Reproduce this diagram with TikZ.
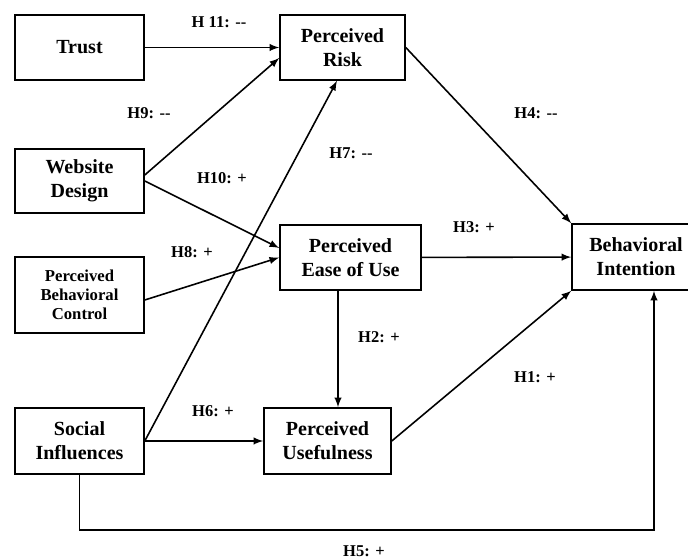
\documentclass[tikz,border=0pt]{standalone}
\usepackage{fontspec}
\setmainfont{Liberation Serif}
\tikzset{
    every node/.style={align=center, inner sep=0mm}
}
\tikzset{box/.style={rectangle, draw, line width=0.9pt, minimum width=2.58cm, minimum height=1.30cm, font=\fontsize{11.4}{13.5}\selectfont\bfseries}}
\tikzset{hyp/.style={font=\fontsize{9.4}{11}\selectfont\bfseries}}
\tikzset{arr/.style={->, >=latex, line width=0.9pt}}

\begin{document}
\begin{tikzpicture}
        \useasboundingbox (0cm, 0cm) rectangle (13.76cm, 11.2cm);
        \node (trust) [box] at (1.59cm, 10.25cm) {Trust};
        \node (pr) [box, minimum width=2.50cm] at (6.85cm, 10.25cm) {Perceived\\Risk};
        \node (wd) [box, minimum height=1.28cm] at (1.59cm, 7.58cm) {Website\\Design};
        \node (pbc) [box, minimum height=1.52cm, font=\fontsize{9.5}{10.8}\selectfont\bfseries] at (1.59cm, 5.30cm) {Perceived\\Behavioral\\Control};
        \node (peou) [box, minimum width=2.82cm] at (7.01cm, 6.05cm) {Perceived\\Ease of Use};
        \node (bi) [box, minimum width=2.56cm, minimum height=1.32cm] at (12.72cm, 6.06cm) {Behavioral\\Intention};
        \node (si) [box, minimum height=1.32cm] at (1.59cm, 2.38cm) {Social\\Influences};
        \node (pu) [box, minimum width=2.54cm, minimum height=1.32cm] at (6.55cm, 2.38cm) {Perceived\\Usefulness};
        \coordinate (h5c) at (13.08cm, 0.6cm);

        \node (h11) [hyp] at (4.38cm, 10.76cm) {H 11: -{}-};
        \node (h9) [hyp] at (2.98cm, 8.94cm) {H9: -{}-};
        \node (h10) [hyp] at (4.44cm, 7.64cm) {H10: +};
        \node (h8) [hyp] at (3.84cm, 6.16cm) {H8: +};
        \node (h7) [hyp] at (7.02cm, 8.14cm) {H7: -{}-};
        \node (h6) [hyp] at (4.26cm, 2.98cm) {H6: +};
        \node (h2) [hyp] at (7.58cm, 4.46cm) {H2: +};
        \node (h3) [hyp] at (9.48cm, 6.66cm) {H3: +};
        \node (h4) [hyp] at (10.72cm, 8.94cm) {H4: -{}-};
        \node (h1) [hyp] at (10.70cm, 3.66cm) {H1: +};
        \node (h5) [hyp] at (7.28cm, 0.18cm) {H5: +};

        \draw (trust) edge [arr] (pr);
        \draw ([yshift=0.12cm]wd.east) edge [arr] ([yshift=-0.21cm]pr.west);
        \draw (wd.east) edge [arr] ([yshift=0.19cm]peou.west);
        \draw ([yshift=-0.1cm]pbc.east) edge [arr] (peou.west);
        \draw (si.east) edge [arr] ([xshift=-0.11cm]pr.south);
        \draw (si.east) edge [arr] (pu.west);
        \draw ([xshift=-0.25cm]peou.south) edge [arr] ([xshift=-0.25cm]peou.south |- pu.north);
        \draw (peou) edge [arr] (bi);
        \draw (pr.east) edge [arr] (bi.north west);
        \draw (pu.east) edge [arr] (bi.south west);
        \draw [arr] (si.south) |- (h5c) -- (h5c |- bi.south);
\end{tikzpicture}
\end{document}
